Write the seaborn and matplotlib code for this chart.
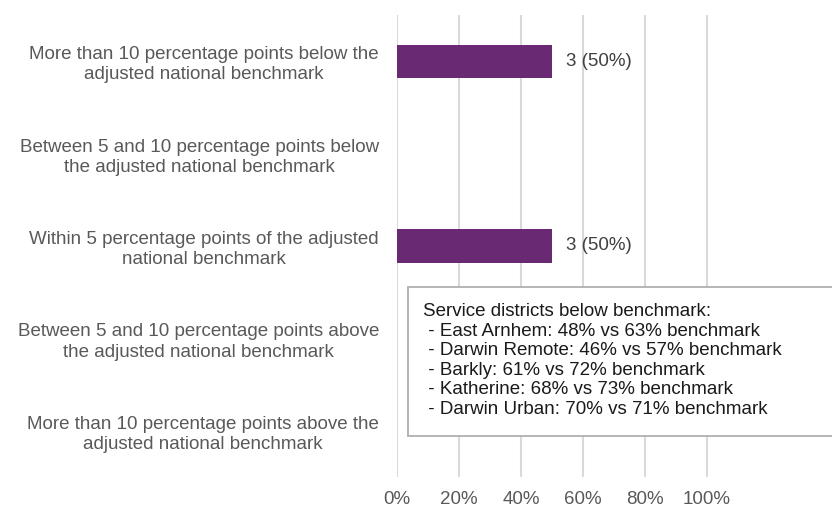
import matplotlib
matplotlib.use("Agg")
import matplotlib.pyplot as plt
import seaborn as sns
import pandas as pd
from matplotlib.patches import Rectangle
from matplotlib.lines import Line2D

categories = [
    "More than 10 percentage points below the\nadjusted national benchmark",
    "Between 5 and 10 percentage points below\nthe adjusted national benchmark",
    "Within 5 percentage points of the adjusted\nnational benchmark",
    "Between 5 and 10 percentage points above\nthe adjusted national benchmark",
    "More than 10 percentage points above the\nadjusted national benchmark",
]
counts = [3, 0, 3, 0, 0]
shares = [0.50, 0.0, 0.50, 0.0, 0.0]
xticks = [0.0, 0.2, 0.4, 0.6, 0.8, 1.0]
xtick_labels = ["0%", "20%", "40%", "60%", "80%", "100%"]

districts = ["East Arnhem", "Darwin Remote", "Barkly", "Katherine", "Darwin Urban"]
district_rates = [48, 46, 61, 68, 70]
district_benchmarks = [63, 57, 72, 73, 71]
note_title = "Service districts below benchmark:"

sns.set_theme(style="whitegrid")
plt.rcParams["font.family"] = ["Liberation Sans", "DejaVu Sans"]

W, H = 832, 509
fig = plt.figure(figsize=(W / 100, H / 100), dpi=100)
ax_left, ax_right, ax_top, ax_bottom = 397, 832, 15, 477
ax = fig.add_axes([ax_left / W, 1 - ax_bottom / H, (ax_right - ax_left) / W, (ax_bottom - ax_top) / H])

df = pd.DataFrame({"category": categories, "share": shares, "count": counts})
bar_color = "#6a2a73"
sns.barplot(data=df, x="share", y="category", orient="h", color=bar_color,
            width=0.36, ax=ax, saturation=1, linewidth=0)

ax.set_xlim(0, (ax_right - ax_left) / 310)
ax.set_ylim(4.5, -0.5)
ax.set_xticks(xticks)
ax.set_xticklabels(xtick_labels)
ax.set_xlabel("")
ax.set_ylabel("")
ax.grid(axis="y", visible=False)
ax.grid(axis="x", color="#d9d9d9", linewidth=1.5)
ax.set_axisbelow(True)
for s in ax.spines.values():
    s.set_visible(False)
ax.tick_params(axis="x", length=0, pad=10, labelsize=13.5, labelcolor="#595959")
ax.tick_params(axis="y", length=0, pad=13, labelsize=13.5, labelcolor="#595959")
for lbl in ax.get_yticklabels():
    lbl.set_multialignment("center")
    lbl.set_linespacing(1.25)

for i, (c, s) in enumerate(zip(counts, shares)):
    if c > 0:
        ax.annotate(f"{c} ({s:.0%})", xy=(s, i), xytext=(10, 0), textcoords="offset points",
                    va="center", ha="left", fontsize=13.5, color="#404040")

# note box (open on the right, as it runs past the figure edge)
bx0, by0, bx1, by1 = 408, 287, 832, 436
fx0, fx1 = bx0 / W, bx1 / W
fy0, fy1 = 1 - by1 / H, 1 - by0 / H
fig.patches.append(Rectangle((fx0, fy0), fx1 - fx0, fy1 - fy0, transform=fig.transFigure,
                             facecolor="white", edgecolor="none", zorder=5))
edge_kw = dict(transform=fig.transFigure, color="#b0b0b0", linewidth=1.3, zorder=5.5)
fig.lines.append(Line2D([fx0, fx1 + 0.01], [fy1, fy1], **edge_kw))
fig.lines.append(Line2D([fx0, fx1 + 0.01], [fy0, fy0], **edge_kw))
fig.lines.append(Line2D([fx0, fx0], [fy0, fy1], **edge_kw))
lines = [note_title] + [f" - {d}: {r}% vs {b}% benchmark"
                        for d, r, b in zip(districts, district_rates, district_benchmarks)]
fig.text(423 / W, 1 - ((by0 + by1) / 2 - 1) / H, "\n".join(lines), ha="left", va="center",
         fontsize=13.5, color="#1a1a1a", linespacing=1.2, zorder=6)

fig.savefig("out.png", dpi=100, facecolor="white")
